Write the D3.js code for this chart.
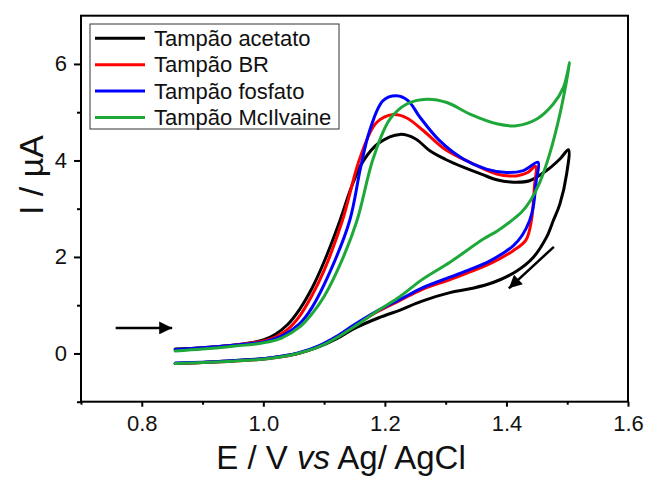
<!DOCTYPE html>
<html>
<head>
<meta charset="utf-8">
<script src="https://cdn.jsdelivr.net/npm/d3@7"></script>
<style>
  html, body { margin: 0; padding: 0; background: #fff; }
  svg { display: block; font-family: "Liberation Sans", Arial, sans-serif; }
</style>
</head>
<body>
<svg id="chart" width="651" height="477"></svg>
<script>
// Cyclic voltammograms: [potential (V vs Ag/AgCl), current (µA)] in scan order,
// forward sweep followed by the reverse sweep.
const acetato = [
  [0.855, 0.09], [0.90, 0.12], [0.95, 0.17], [0.98, 0.22], [1.00, 0.28],
  [1.02, 0.40], [1.04, 0.60], [1.06, 0.92], [1.08, 1.35], [1.10, 1.90],
  [1.126, 2.75], [1.145, 3.45], [1.164, 3.98],
  [1.19, 4.36], [1.225, 4.54], [1.25, 4.45], [1.274, 4.20], [1.30, 4.02],
  [1.329, 3.86], [1.36, 3.71], [1.384, 3.60], [1.411, 3.55], [1.438, 3.58],
  [1.466, 3.79], [1.488, 4.03], [1.502, 4.22],
  [1.499, 3.72], [1.488, 3.10], [1.477, 2.75], [1.466, 2.41], [1.444, 1.99],
  [1.417, 1.71], [1.378, 1.47], [1.34, 1.34], [1.307, 1.26], [1.26, 1.08],
  [1.225, 0.90], [1.19, 0.74], [1.15, 0.52], [1.12, 0.30], [1.09, 0.13],
  [1.06, 0.01], [1.03, -0.06], [1.00, -0.11], [0.95, -0.15], [0.90, -0.19],
  [0.855, -0.21]
];
const br = [
  [0.855, 0.07], [0.90, 0.11], [0.95, 0.17], [1.00, 0.26], [1.02, 0.34],
  [1.04, 0.50], [1.06, 0.78], [1.08, 1.20], [1.10, 1.72], [1.13, 2.75],
  [1.159, 4.05], [1.186, 4.78],
  [1.214, 4.95], [1.236, 4.88], [1.263, 4.62], [1.30, 4.22], [1.345, 3.93],
  [1.384, 3.72], [1.416, 3.68], [1.435, 3.75], [1.448, 3.88],
  [1.446, 3.45], [1.441, 2.75], [1.432, 2.35], [1.411, 2.13], [1.373, 1.86],
  [1.334, 1.66], [1.307, 1.53], [1.26, 1.32], [1.225, 1.10], [1.19, 0.88],
  [1.15, 0.58], [1.12, 0.34], [1.09, 0.14], [1.06, 0.01], [1.03, -0.07],
  [1.00, -0.12], [0.95, -0.16], [0.90, -0.19], [0.855, -0.21]
];
const fosfato = [
  [0.855, 0.08], [0.90, 0.12], [0.95, 0.17], [1.00, 0.24], [1.03, 0.36],
  [1.06, 0.62], [1.08, 0.95], [1.11, 1.70], [1.142, 2.75], [1.16, 3.85],
  [1.175, 4.62], [1.197, 5.24], [1.219, 5.34], [1.238, 5.24], [1.258, 4.89],
  [1.29, 4.41], [1.329, 4.03], [1.367, 3.82], [1.40, 3.75], [1.428, 3.79],
  [1.452, 3.96],
  [1.449, 3.58], [1.444, 3.03], [1.438, 2.75], [1.426, 2.45], [1.411, 2.23],
  [1.373, 1.92], [1.334, 1.71], [1.307, 1.58], [1.26, 1.35], [1.225, 1.12],
  [1.19, 0.90], [1.15, 0.60], [1.12, 0.35], [1.09, 0.15], [1.06, 0.02],
  [1.03, -0.06], [1.00, -0.11], [0.95, -0.15], [0.90, -0.18], [0.855, -0.20]
];
const mcilvaine = [
  [0.855, 0.05], [0.90, 0.09], [0.95, 0.15], [1.00, 0.22], [1.03, 0.32],
  [1.06, 0.55], [1.08, 0.82], [1.10, 1.18], [1.13, 1.95], [1.154, 2.75],
  [1.181, 4.05], [1.208, 4.85], [1.236, 5.17], [1.269, 5.27], [1.302, 5.20],
  [1.34, 4.96], [1.384, 4.76], [1.416, 4.72], [1.45, 4.86], [1.477, 5.17],
  [1.494, 5.52], [1.504, 6.03],
  [1.499, 5.65], [1.488, 4.96], [1.471, 4.13], [1.455, 3.55], [1.44, 3.18],
  [1.425, 2.93], [1.405, 2.72], [1.385, 2.54], [1.362, 2.37], [1.307, 1.89],
  [1.26, 1.52], [1.225, 1.18], [1.19, 0.90], [1.15, 0.56], [1.12, 0.32],
  [1.09, 0.13], [1.06, 0.01], [1.03, -0.07], [1.00, -0.12], [0.95, -0.16],
  [0.90, -0.19], [0.855, -0.21]
];

const seriesNames = ["Tampão acetato", "Tampão BR", "Tampão fosfato", "Tampão McIlvaine"];
const seriesColors = ["#000000", "#ff0000", "#0000ff", "#1ea83a"];
const seriesData = [acetato, br, fosfato, mcilvaine];

const xTicksMajor = [0.8, 1.0, 1.2, 1.4, 1.6];
const xTicksMinor = [0.7, 0.9, 1.1, 1.3, 1.5];
const yTicksMajor = [0, 2, 4, 6];
const yTicksMinor = [-1, 1, 3, 5];

// Scan-direction arrows, in data units: [[x0, y0], [x1, y1]]
const scanArrows = [
  [[0.757, 0.53], [0.850, 0.53]],
  [[1.478, 2.21], [1.404, 1.35]]
];

const svg = d3.select("#chart");
const plotLeft = 81, plotRight = 628, plotTop = 15.7, plotBottom = 401.7;

const x = d3.scaleLinear().domain([0.7, 1.6]).range([plotLeft, plotRight]);
const y = d3.scaleLinear().domain([-1, 7]).range([plotBottom, plotTop]);

// arrowhead marker
svg.append("defs").append("marker")
  .attr("id", "head")
  .attr("viewBox", "0 0 10 10")
  .attr("refX", 10).attr("refY", 5)
  .attr("markerUnits", "userSpaceOnUse")
  .attr("markerWidth", 14).attr("markerHeight", 13)
  .attr("orient", "auto")
  .append("path").attr("d", "M0,0 L10,5 L0,10 Z").attr("fill", "#000");

// curves
const line = d3.line()
  .x(d => x(d[0])).y(d => y(d[1]))
  .curve(d3.curveCatmullRom.alpha(0.5));

svg.append("g").selectAll("path")
  .data(seriesData)
  .join("path")
  .attr("d", line)
  .attr("fill", "none")
  .attr("stroke", (d, i) => seriesColors[i])
  .attr("stroke-width", 3)
  .attr("stroke-linejoin", "round")
  .attr("stroke-linecap", "round");

// axes
const xMajor = svg.append("g").attr("transform", `translate(0,${plotBottom})`)
  .call(d3.axisBottom(x).tickValues(xTicksMajor).tickSize(5).tickPadding(9)
        .tickFormat(d3.format(".1f")));
const xMinor = svg.append("g").attr("transform", `translate(0,${plotBottom})`)
  .call(d3.axisBottom(x).tickValues(xTicksMinor).tickSize(3).tickFormat(""));
const yMajor = svg.append("g").attr("transform", `translate(${plotLeft},0)`)
  .call(d3.axisLeft(y).tickValues(yTicksMajor).tickSize(7).tickPadding(7)
        .tickFormat(d3.format("d")));
const yMinor = svg.append("g").attr("transform", `translate(${plotLeft},0)`)
  .call(d3.axisLeft(y).tickValues(yTicksMinor).tickSize(4).tickFormat(""));

[xMajor, xMinor, yMajor, yMinor].forEach(g => {
  g.select(".domain").remove();
  g.selectAll(".tick line").attr("stroke", "#000").attr("stroke-width", 2);
  g.selectAll(".tick text").attr("fill", "#111").style("font-size", "22px")
    .style("font-family", "'Liberation Sans', Arial, sans-serif");
});

// frame
svg.append("rect")
  .attr("x", plotLeft).attr("y", plotTop)
  .attr("width", plotRight - plotLeft).attr("height", plotBottom - plotTop)
  .attr("fill", "none").attr("stroke", "#000").attr("stroke-width", 2);

// scan arrows
svg.append("g").selectAll("line")
  .data(scanArrows)
  .join("line")
  .attr("x1", d => x(d[0][0])).attr("y1", d => y(d[0][1]))
  .attr("x2", d => x(d[1][0])).attr("y2", d => y(d[1][1]))
  .attr("stroke", "#000").attr("stroke-width", 2.5)
  .attr("marker-end", "url(#head)");

// legend
const lg = svg.append("g");
lg.append("rect")
  .attr("x", 90).attr("y", 24).attr("width", 249).attr("height", 105)
  .attr("fill", "#fff").attr("stroke", "#333").attr("stroke-width", 1);
seriesNames.forEach((name, i) => {
  const ly = 38.3 + i * 26.4;
  lg.append("line")
    .attr("x1", 95).attr("x2", 145).attr("y1", ly).attr("y2", ly)
    .attr("stroke", seriesColors[i]).attr("stroke-width", 3);
  lg.append("text")
    .attr("x", 154).attr("y", ly + 7.7)
    .style("font-size", "22px").attr("fill", "#111")
    .text(name);
});

// axis titles
const xt = svg.append("text")
  .attr("x", 341).attr("y", 469)
  .attr("text-anchor", "middle")
  .style("font-size", "33px").attr("fill", "#111");
xt.append("tspan").text("E / V ");
xt.append("tspan").style("font-style", "italic").text("vs");
xt.append("tspan").text(" Ag/ AgCl");

svg.append("text")
  .attr("transform", "translate(43,175) rotate(-90)")
  .attr("text-anchor", "middle")
  .style("font-size", "34px").attr("fill", "#111")
  .text("I / µA");
</script>
</body>
</html>
